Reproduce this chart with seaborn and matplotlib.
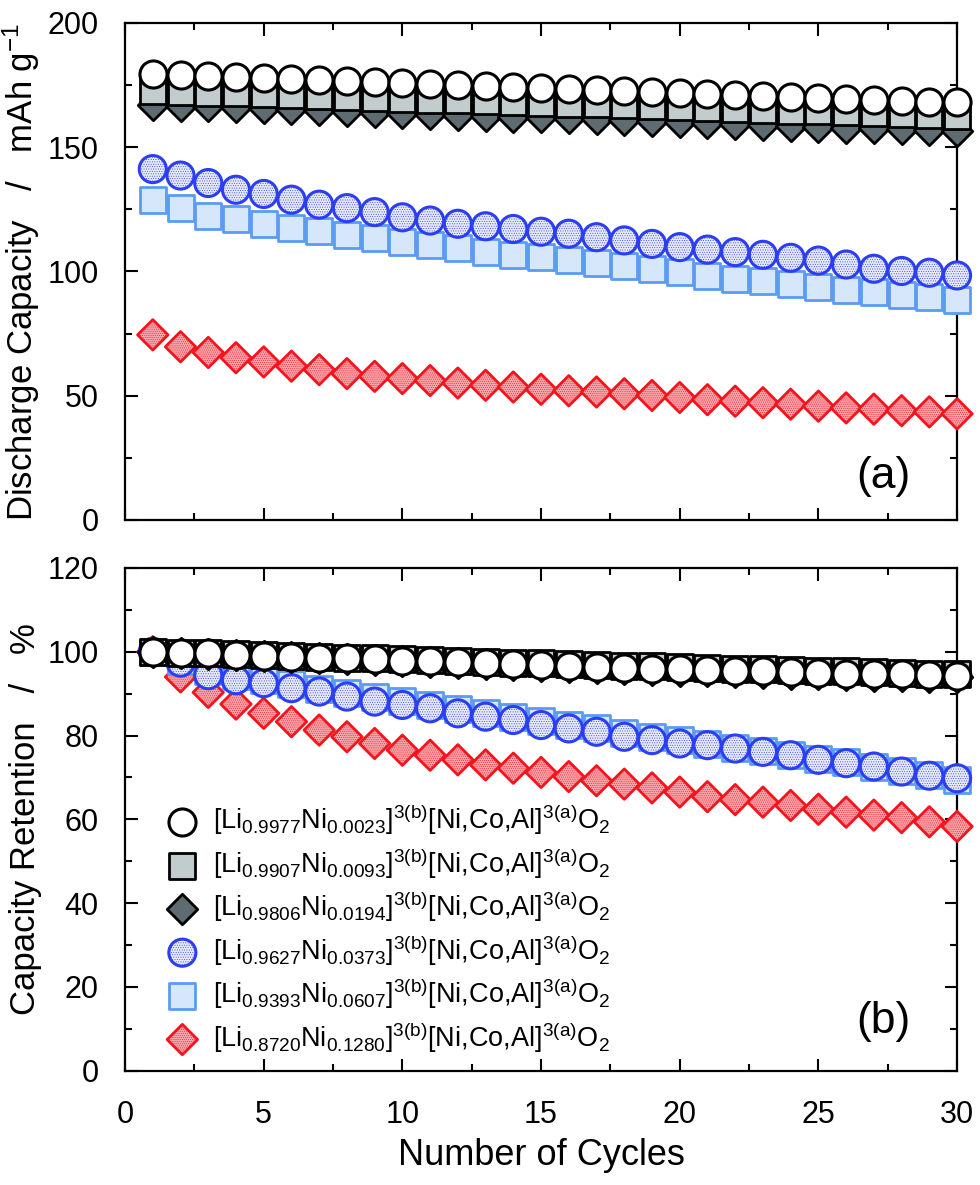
import numpy as np
import pandas as pd
import matplotlib
matplotlib.use('Agg')
import matplotlib.pyplot as plt
from matplotlib.ticker import MultipleLocator
import seaborn as sns

# cycle numbers
cycles = np.arange(1, 31)

# (a) discharge capacity, mAh g-1
cap_a = [179.4, 179.1, 178.6, 178.2, 177.8, 177.3, 176.9, 176.5, 176.1, 175.7,
         175.3, 174.9, 174.5, 174.1, 173.7, 173.3, 172.9, 172.5, 172.1, 171.7,
         171.3, 170.9, 170.5, 170.1, 169.8, 169.4, 169.0, 168.7, 168.4, 168.1]
cap_b = [172.7, 172.4, 172.0, 171.7, 171.3, 171.0, 170.6, 170.3, 169.9, 169.6,
         169.2, 168.9, 168.6, 168.2, 167.9, 167.5, 167.2, 166.8, 166.5, 166.1,
         165.8, 165.4, 165.1, 164.7, 164.4, 164.0, 163.7, 163.4, 163.0, 162.7]
cap_c = [167.1, 166.7, 166.4, 166.0, 165.6, 165.3, 164.9, 164.5, 164.2, 163.8,
         163.4, 163.1, 162.7, 162.3, 162.0, 161.6, 161.2, 160.9, 160.5, 160.1,
         159.8, 159.4, 159.0, 158.7, 158.3, 157.9, 157.6, 157.2, 156.8, 156.4]
cap_d = [141.2, 138.6, 135.6, 132.9, 131.2, 128.9, 126.9, 125.5, 123.9, 121.8,
         120.5, 119.2, 118.2, 117.1, 116.0, 115.2, 113.8, 112.5, 111.1, 109.8,
         108.8, 107.8, 106.7, 105.5, 104.4, 102.8, 101.1, 100.2, 99.5, 98.4]
cap_e = [128.9, 125.5, 122.5, 121.0, 119.0, 117.4, 116.1, 114.7, 113.4, 111.8,
         110.7, 109.4, 108.0, 106.7, 105.8, 104.7, 103.4, 102.1, 100.9, 99.6,
         98.3, 97.1, 96.0, 94.9, 93.8, 92.7, 91.6, 90.6, 89.6, 88.6]
cap_f = [74.5, 69.7, 67.4, 65.3, 63.6, 61.9, 60.5, 58.9, 57.8, 56.9,
         56.1, 55.1, 54.2, 53.5, 52.6, 52.0, 51.5, 50.8, 50.1, 49.3,
         48.4, 47.8, 47.2, 46.6, 45.8, 45.1, 44.6, 44.0, 43.5, 42.7]

# (b) capacity retention, %
ret_a = [100.0, 99.8, 99.6, 99.3, 99.1, 98.8, 98.6, 98.4, 98.2, 97.9,
         97.7, 97.5, 97.3, 97.1, 96.9, 96.6, 96.4, 96.2, 96.0, 95.8,
         95.6, 95.4, 95.3, 95.1, 94.9, 94.8, 94.7, 94.6, 94.5, 94.3]
ret_b = [100.0, 99.8, 99.6, 99.4, 99.2, 99.0, 98.8, 98.6, 98.4, 98.2,
         98.0, 97.8, 97.6, 97.4, 97.2, 97.0, 96.8, 96.6, 96.5, 96.3,
         96.1, 95.9, 95.8, 95.6, 95.4, 95.3, 95.1, 95.0, 94.8, 94.7]
ret_c = [100.0, 99.7, 99.5, 99.2, 99.0, 98.7, 98.5, 98.2, 98.0, 97.7,
         97.5, 97.2, 97.0, 96.8, 96.6, 96.3, 96.1, 95.9, 95.7, 95.5,
         95.3, 95.1, 94.9, 94.8, 94.6, 94.4, 94.3, 94.1, 94.0, 93.9]
ret_d = [100.0, 97.4, 94.4, 93.2, 92.5, 91.3, 90.5, 89.3, 88.1, 87.3,
         86.5, 85.3, 84.5, 83.7, 82.5, 81.7, 80.9, 79.7, 78.9, 78.1,
         77.7, 76.9, 76.1, 75.3, 74.2, 73.4, 72.6, 71.4, 70.4, 69.8]
ret_e = [100.0, 97.8, 95.3, 94.2, 93.2, 92.2, 91.2, 90.2, 89.2, 88.3,
         87.4, 86.4, 85.4, 84.4, 83.5, 82.6, 81.7, 80.7, 79.7, 78.9,
         78.0, 77.1, 76.3, 75.4, 74.5, 73.6, 72.6, 71.6, 70.6, 69.4]
ret_f = [100.0, 94.0, 90.3, 87.5, 85.3, 83.3, 81.3, 79.7, 78.1, 76.5,
         75.3, 74.2, 73.0, 72.2, 71.2, 70.2, 69.2, 68.4, 67.5, 66.5,
         65.4, 64.7, 64.1, 63.3, 62.4, 61.7, 61.0, 60.4, 59.4, 58.3]

labels = [
    r'[Li$_{0.9977}$Ni$_{0.0023}$]$^{3(b)}$[Ni,Co,Al]$^{3(a)}$O$_{2}$',
    r'[Li$_{0.9907}$Ni$_{0.0093}$]$^{3(b)}$[Ni,Co,Al]$^{3(a)}$O$_{2}$',
    r'[Li$_{0.9806}$Ni$_{0.0194}$]$^{3(b)}$[Ni,Co,Al]$^{3(a)}$O$_{2}$',
    r'[Li$_{0.9627}$Ni$_{0.0373}$]$^{3(b)}$[Ni,Co,Al]$^{3(a)}$O$_{2}$',
    r'[Li$_{0.9393}$Ni$_{0.0607}$]$^{3(b)}$[Ni,Co,Al]$^{3(a)}$O$_{2}$',
    r'[Li$_{0.8720}$Ni$_{0.1280}$]$^{3(b)}$[Ni,Co,Al]$^{3(a)}$O$_{2}$',
]

# marker styles: (marker, size pt, face, edge, edge width, hatch)
styles = [
    ('o', 19.5, 'white', 'black', 2.2, None),
    ('s', 18.5, '#c3cccc', 'black', 2.0, None),
    ('D', 15.5, '#5e6c71', 'black', 2.0, None),
    ('o', 19.5, '#e6e9fb', '#2b3ef2', 2.2, '.......'),
    ('s', 18.5, '#d6e6fb', '#5b9bf2', 2.0, None),
    ('D', 15.5, '#f7a4aa', '#f4141e', 2.0, '........'),
]

sns.set_theme(style='ticks')
plt.rcParams['font.family'] = ['Liberation Sans', 'DejaVu Sans']
plt.rcParams['mathtext.fontset'] = 'custom'
plt.rcParams['mathtext.rm'] = 'Liberation Sans'
plt.rcParams['mathtext.it'] = 'Liberation Sans:italic'
plt.rcParams['mathtext.bf'] = 'Liberation Sans:bold'
plt.rcParams['mathtext.default'] = 'regular'
plt.rcParams['hatch.linewidth'] = 0.35
for key in ('text.color', 'axes.labelcolor', 'xtick.color', 'ytick.color'):
    plt.rcParams[key] = 'black'

fig = plt.figure(figsize=(9.8, 11.85), dpi=100)
ax1 = fig.add_axes([0.1276, 0.5612, 0.8490, 0.4194])
ax2 = fig.add_axes([0.1276, 0.0965, 0.8490, 0.4242])


def draw(ax, series, with_labels):
    # back to front: last legend entry first
    for i in reversed(range(len(series))):
        mk, ms, fc, ec, lw, hatch = styles[i]
        kw = {}
        if hatch:
            plt.rcParams['hatch.color'] = ec
            kw['hatch'] = hatch
        df = pd.DataFrame({'cycle': cycles, 'value': series[i]})
        sns.scatterplot(data=df, x='cycle', y='value', ax=ax, marker=mk,
                        s=ms ** 2, color=fc, edgecolor=ec, linewidth=lw,
                        zorder=3 + (len(series) - i), clip_on=False,
                        label=labels[i] if with_labels else None,
                        legend=False, **kw)


draw(ax1, [cap_a, cap_b, cap_c, cap_d, cap_e, cap_f], False)
draw(ax2, [ret_a, ret_b, ret_c, ret_d, ret_e, ret_f], True)

for ax in (ax1, ax2):
    ax.set_xlim(0, 30)
    ax.xaxis.set_major_locator(MultipleLocator(5))
    ax.xaxis.set_minor_locator(MultipleLocator(2.5))
    ax.tick_params(which='both', direction='in', top=True, right=True,
                   width=1.5, colors='black', labelsize=22)
    ax.tick_params(axis='y', which='both', pad=19)
    ax.tick_params(axis='x', which='both', pad=21)
    ax.tick_params(which='major', length=9)
    ax.tick_params(which='minor', length=5)
    for sp in ax.spines.values():
        sp.set_linewidth(1.6)
        sp.set_color('black')
        sp.set_zorder(2)

ax1.set_ylim(0, 200)
ax1.yaxis.set_major_locator(MultipleLocator(50))
ax1.yaxis.set_minor_locator(MultipleLocator(25))
ax1.tick_params(labelbottom=False)
ax1.set_xlabel('')
ax1.set_ylabel('Discharge Capacity   /   mAh g$^{-1}$', fontsize=25)
ax1.yaxis.set_label_coords(-0.100, 0.5)
ax1.text(0.912, 0.088, '(a)', transform=ax1.transAxes, fontsize=32,
         ha='center', va='center')

ax2.set_ylim(0, 120)
ax2.yaxis.set_major_locator(MultipleLocator(20))
ax2.yaxis.set_minor_locator(MultipleLocator(10))
ax2.set_xlabel('Number of Cycles', fontsize=26, labelpad=6)
ax2.set_ylabel('Capacity Retention   /   %', fontsize=25)
ax2.yaxis.set_label_coords(-0.100, 0.5)
ax2.text(0.912, 0.097, '(b)', transform=ax2.transAxes, fontsize=32,
         ha='center', va='center')

h, l = ax2.get_legend_handles_labels()
order = [l.index(lab) for lab in labels]
ax2.legend([h[k] for k in order], [l[k] for k in order], loc='upper left',
           bbox_to_anchor=(0.0526, 0.5325), frameon=False, fontsize=19.5,
           borderpad=0, borderaxespad=0, handlelength=1.0,
           handletextpad=0.62, labelspacing=0.33, scatterpoints=1)

fig.savefig('out.png', dpi=100)
